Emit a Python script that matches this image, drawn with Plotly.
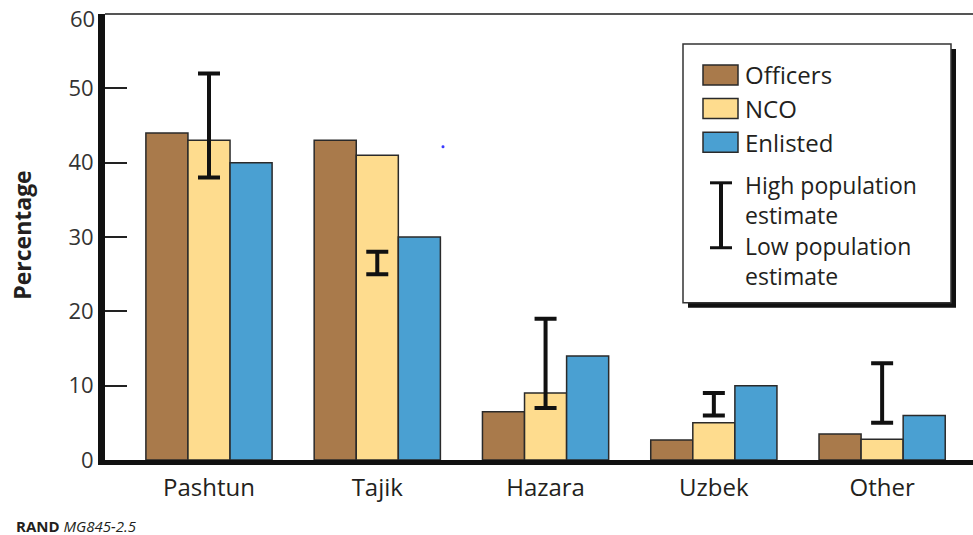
import plotly.graph_objects as go

# Ethnic composition of the army by rank, percent
groups = ["Pashtun", "Tajik", "Hazara", "Uzbek", "Other"]
officers = [44, 43, 6.5, 2.7, 3.5]
nco = [43, 41, 9, 5, 2.8]
enlisted = [40, 30, 14, 10, 6]
# Population estimate range for each group (high / low)
pop_high = [52, 28, 19, 9, 13]
pop_low = [38, 25, 7, 6, 5]

y_ticks = [0, 10, 20, 30, 40, 50, 60]
y_max = 60

series_names = ["Officers", "NCO", "Enlisted"]
series_colors = ["#A97A4B", "#FEDC8E", "#4AA0D2"]
outline = "#2a2a2a"
text_color = "#231f20"
FONT = "Open Sans"

W, H = 973, 535
L, R, T, B = 105, 0, 14, 74.5
plot_w = W - L - R
plot_h = H - T - B


def px(x):
    return (x - L) / plot_w


def py(y):
    return (H - B - y) / plot_h


fig = go.Figure()
for name, vals, col in zip(series_names, [officers, nco, enlisted], series_colors):
    fig.add_trace(go.Bar(
        x=groups, y=vals, name=name,
        marker=dict(color=col, line=dict(color=outline, width=1.5)),
        showlegend=False,
    ))

# High/low population estimate bars drawn at each group's center
fig.add_trace(go.Scatter(
    x=groups, y=pop_high, mode="markers",
    marker=dict(size=1, color="rgba(0,0,0,0)"),
    error_y=dict(type="data", symmetric=False,
                 array=[0] * len(groups),
                 arrayminus=[h - l for h, l in zip(pop_high, pop_low)],
                 color="#111", thickness=4, width=11),
    showlegend=False, hoverinfo="skip",
))

shapes = []
annotations = []

# top frame line
shapes.append(dict(type="line", xref="paper", yref="paper",
                   x0=0, x1=1, y0=1, y1=1,
                   line=dict(color="#555", width=2)))

# small stray dot
shapes.append(dict(type="circle", xref="paper", yref="paper",
                   x0=px(441.5), x1=px(444.5), y0=py(148.5), y1=py(145.5),
                   fillcolor="#3a3aff", line=dict(width=0)))

# legend box with drop shadow
shapes.append(dict(type="rect", xref="paper", yref="paper",
                   x0=px(688), x1=px(956), y0=py(308), y1=py(49),
                   fillcolor="#111", line=dict(width=0)))
shapes.append(dict(type="rect", xref="paper", yref="paper",
                   x0=px(683), x1=px(951), y0=py(303), y1=py(44),
                   fillcolor="white", line=dict(color="#333", width=1.5)))

LEG_SIZE = 24
rows_y = [75, 108.5, 142.5]
for name, col, yc in zip(series_names, series_colors, rows_y):
    shapes.append(dict(type="rect", xref="paper", yref="paper",
                       x0=px(703), x1=px(738), y0=py(yc + 10), y1=py(yc - 10),
                       fillcolor=col, line=dict(color=outline, width=1.5)))
    annotations.append(dict(text=name, xref="paper", yref="paper",
                            x=px(743), y=py(yc), xanchor="left", yanchor="middle",
                            showarrow=False,
                            font=dict(family=FONT, size=LEG_SIZE, color=text_color)))

# error bar key
shapes.append(dict(type="line", xref="paper", yref="paper",
                   x0=px(721), x1=px(721), y0=py(183), y1=py(248),
                   line=dict(color="#111", width=4)))
for yy in (183, 248):
    shapes.append(dict(type="line", xref="paper", yref="paper",
                       x0=px(710), x1=px(732), y0=py(yy), y1=py(yy),
                       line=dict(color="#111", width=3)))
for txt, yc in [("High population<br>estimate", 200),
                ("Low population<br>estimate", 261.5)]:
    annotations.append(dict(text=txt, xref="paper", yref="paper",
                            x=px(743), y=py(yc), xanchor="left", yanchor="middle",
                            align="left", showarrow=False,
                            font=dict(family=FONT, size=23, color=text_color)))

# top tick label, set a little below the frame line
annotations.append(dict(text=str(y_max), xref="paper", yref="paper",
                        x=px(97), y=py(18), xanchor="right", yanchor="middle",
                        showarrow=False,
                        font=dict(family=FONT, size=22, color="#333")))

# source note
annotations.append(dict(text="<b>RAND</b> <i>MG845-2.5</i>", xref="paper", yref="paper",
                        x=px(14), y=py(527), xanchor="left", yanchor="middle",
                        showarrow=False,
                        font=dict(family=FONT, size=15, color=text_color)))

# y-axis title
annotations.append(dict(text="<b>Percentage</b>", xref="paper", yref="paper",
                        x=px(22), y=py(236), xanchor="center", yanchor="middle",
                        textangle=-90, showarrow=False,
                        font=dict(family=FONT, size=23, color=text_color)))

fig.update_layout(
    width=W, height=H,
    margin=dict(l=L, r=R, t=T, b=B, pad=0, autoexpand=False),
    paper_bgcolor="white", plot_bgcolor="white",
    barmode="group", bargap=0.25, bargroupgap=0,
    font=dict(family=FONT, color=text_color),
    shapes=shapes, annotations=annotations,
    xaxis=dict(
        type="category", range=[-0.618, 4.54], automargin=False,
        showline=True, linecolor="#111", linewidth=5,
        ticks="", showgrid=False, zeroline=False,
        ticklabelstandoff=2,
        tickfont=dict(family=FONT, size=24, color=text_color),
    ),
    yaxis=dict(
        range=[0, y_max], automargin=False,
        tickvals=y_ticks,
        ticktext=[str(v) if v != y_max else "" for v in y_ticks],
        showline=True, linecolor="#111", linewidth=7,
        ticks="inside", ticklen=22, tickwidth=2, tickcolor="#222",
        showgrid=False, zeroline=False,
        tickfont=dict(family=FONT, size=22, color="#333"),
    ),
)

fig.write_html("out.html")
